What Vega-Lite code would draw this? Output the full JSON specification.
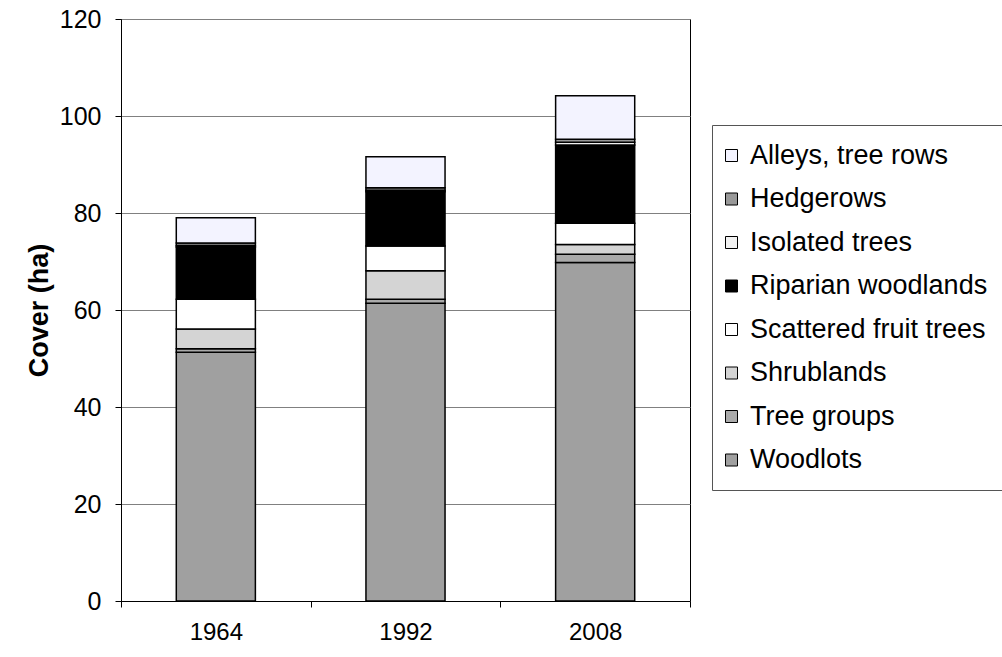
{
  "$schema": "https://vega.github.io/schema/vega-lite/v6.json",
  "width": 569,
  "height": 582,
  "autosize": {"type": "none"},
  "padding": {"left": 121, "top": 19, "right": 312, "bottom": 56},
  "background": "white",
  "config": {
    "font": "Liberation Sans",
    "view": {"stroke": "black", "strokeWidth": 1}
  },
  "data": {
    "values": [
      {"year": "1964", "type": "Woodlots", "ha": 51.3},
      {"year": "1964", "type": "Tree groups", "ha": 0.7},
      {"year": "1964", "type": "Shrublands", "ha": 4.1},
      {"year": "1964", "type": "Scattered fruit trees", "ha": 6.1},
      {"year": "1964", "type": "Riparian woodlands", "ha": 10.8},
      {"year": "1964", "type": "Isolated trees", "ha": 0.3},
      {"year": "1964", "type": "Hedgerows", "ha": 0.5},
      {"year": "1964", "type": "Alleys, tree rows", "ha": 5.2},
      {"year": "1992", "type": "Woodlots", "ha": 61.4},
      {"year": "1992", "type": "Tree groups", "ha": 0.8},
      {"year": "1992", "type": "Shrublands", "ha": 5.9},
      {"year": "1992", "type": "Scattered fruit trees", "ha": 5.1},
      {"year": "1992", "type": "Riparian woodlands", "ha": 11.2},
      {"year": "1992", "type": "Isolated trees", "ha": 0.3},
      {"year": "1992", "type": "Hedgerows", "ha": 0.5},
      {"year": "1992", "type": "Alleys, tree rows", "ha": 6.4},
      {"year": "2008", "type": "Woodlots", "ha": 69.8},
      {"year": "2008", "type": "Tree groups", "ha": 1.7},
      {"year": "2008", "type": "Shrublands", "ha": 2.0},
      {"year": "2008", "type": "Scattered fruit trees", "ha": 4.4},
      {"year": "2008", "type": "Riparian woodlands", "ha": 16.1},
      {"year": "2008", "type": "Isolated trees", "ha": 0.6},
      {"year": "2008", "type": "Hedgerows", "ha": 0.6},
      {"year": "2008", "type": "Alleys, tree rows", "ha": 9.0}
    ]
  },
  "mark": {"type": "bar", "width": {"band": 0.417}, "stroke": "black", "strokeWidth": 1.5},
  "encoding": {
    "x": {
      "field": "year",
      "type": "nominal",
      "scale": {"paddingInner": 0, "paddingOuter": 0},
      "axis": {
        "title": null,
        "labelAngle": 0,
        "tickBand": "extent",
        "labelFontSize": 24,
        "labelColor": "black",
        "domainColor": "black",
        "tickColor": "black",
        "tickSize": 6,
        "labelPadding": 13,
        "grid": false
      }
    },
    "y": {
      "field": "ha",
      "type": "quantitative",
      "stack": "zero",
      "scale": {"domain": [0, 120], "nice": false},
      "axis": {
        "title": "Cover (ha)",
        "values": [0, 20, 40, 60, 80, 100, 120],
        "labelFontSize": 25,
        "labelColor": "black",
        "titleFontSize": 27,
        "titleFontWeight": "bold",
        "titleColor": "black",
        "titlePadding": 6,
        "domainColor": "black",
        "tickColor": "black",
        "tickSize": 6,
        "labelPadding": 14,
        "gridColor": "#808080",
        "gridWidth": 1
      }
    },
    "color": {
      "field": "type",
      "type": "nominal",
      "scale": {
        "domain": ["Alleys, tree rows", "Hedgerows", "Isolated trees", "Riparian woodlands", "Scattered fruit trees", "Shrublands", "Tree groups", "Woodlots"],
        "range": ["#f3f3ff", "#999999", "#f2f2f2", "#000000", "#ffffff", "#d4d4d4", "#aaaaaa", "#a0a0a0"]
      },
      "legend": {
        "title": null,
        "orient": "none",
        "legendX": 591,
        "legendY": 106,
        "padding": 17,
        "symbolOffset": -11,
        "strokeColor": "#555555",
        "fillColor": "white",
        "symbolType": "square",
        "symbolSize": 144,
        "symbolStrokeColor": "black",
        "symbolStrokeWidth": 1,
        "labelFontSize": 27,
        "labelColor": "black",
        "labelOffset": 5,
        "labelLimit": 400,
        "rowPadding": 15.5
      }
    },
    "order": {"field": "type", "sort": "descending"}
  }
}
